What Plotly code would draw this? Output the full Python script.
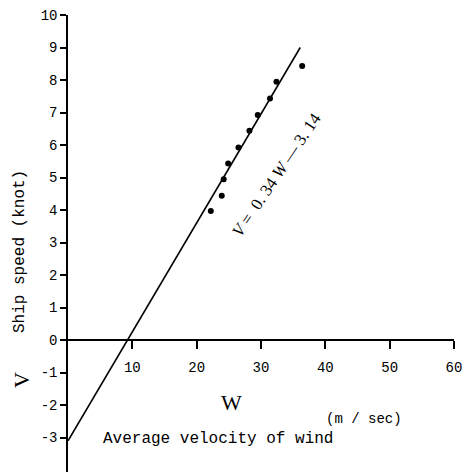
import plotly.graph_objects as go

# Observed data points: average wind velocity W (m/sec) vs ship speed V (knot)
wind_w = [22.2, 23.9, 24.2, 24.9, 26.5, 28.2, 29.5, 31.4, 32.4, 36.4]
speed_v = [3.97, 4.44, 4.95, 5.43, 5.92, 6.44, 6.92, 7.43, 7.95, 8.43]

# Regression line end points (V = 0.34 W - 3.14)
fit_w = [0.0, 36.1]
fit_v = [-3.1, 9.0]

x_tickvals = [10, 20, 30, 40, 50, 60]
x_ticktext = ["10", "20", "30", "40", "50", "60"]
y_tickvals = [-3, -2, -1, 0, 1, 2, 3, 4, 5, 6, 7, 8, 9, 10]
y_ticktext = ["-3", "-2", "-1", "0", "1", "2", "3", "4", "5", "6", "7", "8", "9", "10"]

Y_MIN, Y_MAX = -4.06, 10.0
X_MIN, X_MAX = 0.0, 60.0

mono = "Liberation Mono, Courier New, monospace"
serif = "Liberation Serif, Times New Roman, serif"

# body margin is removed by post_script, so figure fills the window
W_FIG, H_FIG = 466, 472
plot_l, plot_r, plot_t, plot_b = 68, 454, 15, 472  # screen pixels

fig = go.Figure()
fig.add_trace(go.Scatter(x=fit_w, y=fit_v, mode="lines",
                         line=dict(color="black", width=1.6),
                         showlegend=False, hoverinfo="skip", cliponaxis=False))
fig.add_trace(go.Scatter(x=wind_w, y=speed_v, mode="markers",
                         marker=dict(color="black", size=6),
                         showlegend=False))

xpos = (0 - Y_MIN) / (Y_MAX - Y_MIN)

fig.update_layout(
    width=W_FIG, height=H_FIG,
    margin=dict(l=plot_l, r=W_FIG - plot_r, t=plot_t, b=H_FIG - plot_b),
    paper_bgcolor="white", plot_bgcolor="white",
    font=dict(family=mono, color="black", size=14),
    xaxis=dict(range=[X_MIN, X_MAX], anchor="free", position=xpos,
               showline=True, linecolor="black", linewidth=1.5,
               ticks="outside", ticklen=8, tickwidth=1.5, tickcolor="black",
               tickvals=x_tickvals, ticktext=x_ticktext,
               ticklabelstandoff=6, ticklabeloverflow="allow",
               showgrid=False, zeroline=False,
               tickfont=dict(family=mono, size=14)),
    yaxis=dict(range=[Y_MIN, Y_MAX],
               showline=True, linecolor="black", linewidth=1.5,
               ticks="outside", ticklen=6, tickwidth=1.5, tickcolor="black",
               tickvals=y_tickvals, ticktext=y_ticktext,
               ticklabeloverflow="allow",
               showgrid=False, zeroline=False,
               tickfont=dict(family=mono, size=14)),
    annotations=[
        dict(text="Ship speed (knot)", x=20, y=252, showarrow=False,
             textangle=-90, font=dict(family=mono, size=16)),
        dict(text="V", x=22, y=380, showarrow=False, textangle=-90,
             font=dict(family=serif, size=22)),
        dict(text="W", x=231, y=402, showarrow=False,
             font=dict(family=serif, size=22)),
        dict(text="(m / sec)", x=364, y=419, showarrow=False,
             font=dict(family=mono, size=14)),
        dict(text="Average velocity of wind", x=218, y=439, showarrow=False,
             font=dict(family=mono, size=16)),
        dict(text="<i>V</i> =  0. 34 <i>W</i> — 3. 14", x=276, y=175, showarrow=False,
             textangle=-56, font=dict(family=serif, size=17)),
    ],
)

# Convert screen-pixel annotation positions to paper coordinates
for a in fig.layout.annotations:
    px, py = a.x, a.y
    a.xref = "paper"
    a.yref = "paper"
    a.x = (px - plot_l) / (plot_r - plot_l)
    a.y = (plot_b - py) / (plot_b - plot_t)
    a.xanchor = "center"
    a.yanchor = "middle"

fig.write_html(
    "out.html",
    config={"displayModeBar": False},
    post_script="document.body.style.margin='0';document.body.style.overflow='hidden';",
)
